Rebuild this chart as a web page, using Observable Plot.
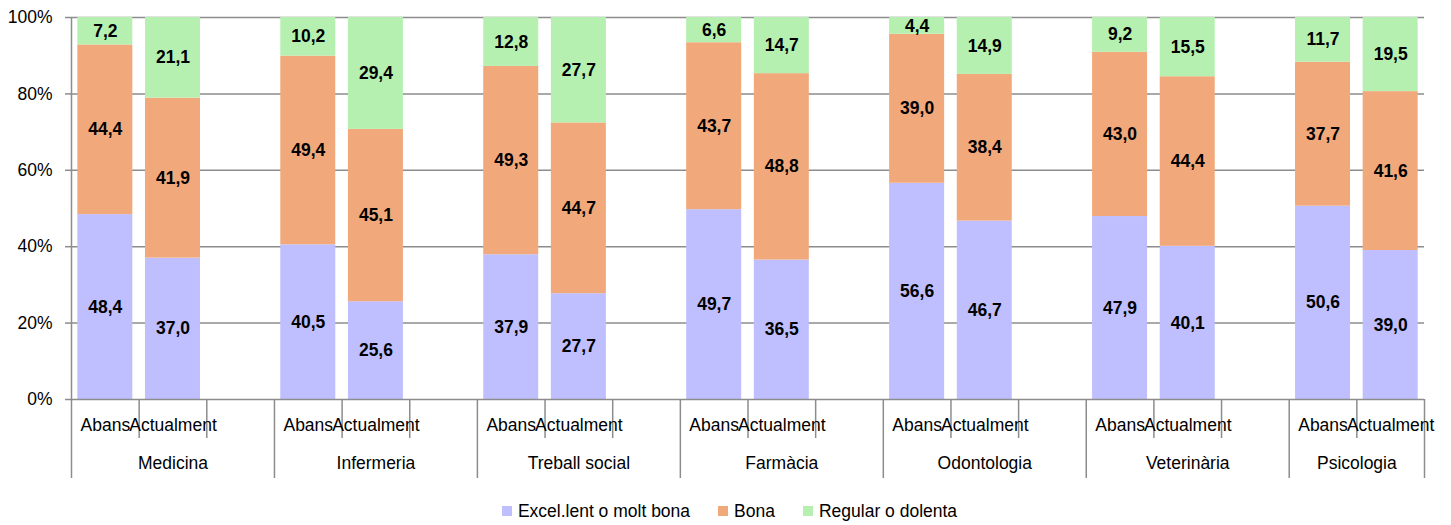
<!DOCTYPE html>
<html><head><meta charset="utf-8">
<script src="https://cdn.jsdelivr.net/npm/d3@7"></script>
<script src="https://cdn.jsdelivr.net/npm/@observablehq/plot@0.6"></script>
<style>
body{margin:0;background:#fff;font-family:"Liberation Sans",Arial,sans-serif;}
#legend{display:flex;justify-content:center;align-items:center;height:28px;padding-top:4px;font-size:17.5px;color:#000;padding-left:8px}
#legend .item{display:flex;align-items:center;margin:0 14px}
#legend .sw{width:10px;height:10px;margin-right:6px}
</style></head><body>
<div id="chart"></div>
<div id="legend"></div>
<script>
const groups = ["Medicina","Infermeria","Treball social","Farmàcia","Odontologia","Veterinària","Psicologia"];
const periods = ["Abans","Actualment"];
const series = ["Excel.lent o molt bona","Bona","Regular o dolenta"];
const colors = ["#bfbfff","#f1a97b","#b5f0b0"];
// values per group: [Abans, Actualment]
const excellent = [[48.4,37.0],[40.5,25.6],[37.9,27.7],[49.7,36.5],[56.6,46.7],[47.9,40.1],[50.6,39.0]];
const good      = [[44.4,41.9],[49.4,45.1],[49.3,44.7],[43.7,48.8],[39.0,38.4],[43.0,44.4],[37.7,41.6]];
const poor      = [[7.2,21.1],[10.2,29.4],[12.8,27.7],[6.6,14.7],[4.4,14.9],[9.2,15.5],[11.7,19.5]];
const yTicks = [0,20,40,60,80,100];

const seriesValues = [excellent, good, poor];
const slotsPerGroup = 3;
const nSlots = groups.length * slotsPerGroup - 1;
const rows = [];
groups.forEach((g, gi) => {
  periods.forEach((p, pi) => {
    const slot = gi * slotsPerGroup + pi;
    let cum = 0;
    series.forEach((s, si) => {
      const v = seriesValues[si][gi][pi];
      rows.push({group: g, period: p, series: s, value: v, slot, y1: cum, y2: Math.min(100, cum + v)});
      cum += v;
    });
  });
});

const gap = 0.0935;
const boundaries = groups.map((g, gi) => gi * slotsPerGroup).concat([nSlots]);
const inner = [];
groups.forEach((g, gi) => periods.forEach((p, pi) => { const t = gi * slotsPerGroup + pi + 1; if (t < nSlots) inner.push(t); }));
const periodCenters = new Map();
groups.forEach((g, gi) => periods.forEach((p, pi) => periodCenters.set(gi * slotsPerGroup + pi + 0.5, p)));
const groupCenters = new Map();
groups.forEach((g, gi) => {
  const a = gi * slotsPerGroup, b = Math.min(a + slotsPerGroup, nSlots);
  groupCenters.set((a + b) / 2, g);
});

const font = '"Liberation Sans",Arial,sans-serif';
const fs = 17.5;
const grid = "#8c8c8c";

const chart = Plot.plot({
  width: 1451, height: 493,
  marginLeft: 71, marginRight: 27, marginTop: 17, marginBottom: 94,
  x: {domain: [0, nSlots]},
  y: {domain: [0, 100]},
  color: {domain: series, range: colors},
  style: {fontFamily: font, fontSize: fs + "px", color: "#000", background: "#fff"},
  marks: [
    Plot.ruleY(yTicks.filter(d => d > 0), {stroke: grid, strokeWidth: 1.5}),
    Plot.rect(rows, {x1: d => d.slot + gap, x2: d => d.slot + 1 - gap, y1: "y1", y2: "y2", fill: "series"}),
    Plot.text(rows, {x: d => d.slot + 0.5, y: d => (d.y1 + d.y2) / 2, text: d => d.value.toFixed(1).replace(".", ","), fontWeight: "bold", fontSize: fs, fill: "#000"}),
    Plot.ruleX([0], {stroke: grid, strokeWidth: 1.5}),
    Plot.ruleY([0], {stroke: grid, strokeWidth: 1.5}),
    Plot.axisY({ticks: yTicks, tickFormat: d => d + "%", tickSize: 6, tickPadding: 13, stroke: grid, strokeWidth: 1.5, fill: "#000", label: null, fontSize: fs}),
    Plot.axisX({ticks: boundaries, tickSize: 79, tickFormat: () => "", stroke: grid, strokeWidth: 1.5, label: null}),
    Plot.axisX({ticks: inner, tickSize: 39, tickFormat: () => "", stroke: grid, strokeWidth: 1.5, label: null}),
    Plot.axisX({ticks: [...periodCenters.keys()], tickSize: 0, tickPadding: 19, tickFormat: d => periodCenters.get(d), fill: "#000", label: null, fontSize: fs}),
    Plot.axisX({ticks: [...groupCenters.keys()], tickSize: 0, tickPadding: 57, tickFormat: d => groupCenters.get(d), fill: "#000", label: null, fontSize: fs})
  ]
});
document.getElementById("chart").appendChild(chart);

const legend = d3.select("#legend");
series.forEach((s, i) => {
  const it = legend.append("div").attr("class", "item");
  it.append("div").attr("class", "sw").style("background", colors[i]);
  it.append("span").text(s);
});
</script></body></html>
